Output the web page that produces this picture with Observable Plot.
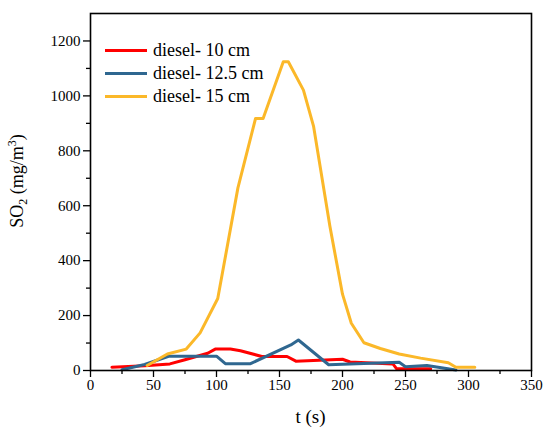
<!DOCTYPE html>
<html><head><meta charset="utf-8">
<script src="https://cdn.jsdelivr.net/npm/d3@7"></script>
<script src="https://cdn.jsdelivr.net/npm/@observablehq/plot@0.6"></script>
<style>
body{margin:0;background:#fff;}
#wrap{position:relative;width:550px;height:433px;font-family:"Liberation Serif","Times New Roman",serif;}
#legend{position:absolute;left:105px;top:39px;font-size:18px;color:#000;line-height:23px;}
#legend .row{display:flex;align-items:center;height:23px;}
#legend .sw{width:42px;height:3px;margin-right:6px;}
svg text{font-family:"Liberation Serif","Times New Roman",serif;}
</style></head><body><div id="wrap"><div id="legend"></div></div>
<script>
const seriesNames = ["diesel- 10 cm", "diesel- 12.5 cm", "diesel- 15 cm"];
const seriesColors = ["#ff0000", "#2f6790", "#fbb829"];

const redT = [17, 43, 63, 75, 93, 99, 111, 119, 136, 156, 163, 200, 206, 240, 243, 270];
const redV = [12, 17, 24, 39, 63, 78, 78, 72, 51, 51, 34, 41, 31, 24, 6, 6];

const blueT = [25, 43, 62, 100, 107, 127, 159, 165, 189, 245, 250, 267, 290];
const blueV = [3, 22, 52, 52, 25, 25, 93, 111, 21, 30, 14, 18, 2];

const yellowT = [45, 61, 76, 87, 101, 117, 131, 137, 153, 157, 169, 177, 190, 200, 207, 217, 230, 245, 262, 284, 290, 305];
const yellowV = [18, 60, 78, 137, 262, 665, 918, 918, 1124, 1124, 1021, 890, 525, 278, 172, 101, 80, 60, 45, 28, 12, 12];

const xTicks = [0, 50, 100, 150, 200, 250, 300, 350];
const xMinor = [25, 75, 125, 175, 225, 275, 325];
const yTicks = [0, 200, 400, 600, 800, 1000, 1200];
const yMinor = [100, 300, 500, 700, 900, 1100];

const seriesT = [redT, blueT, yellowT];
const seriesV = [redV, blueV, yellowV];
const data = [];
seriesNames.forEach((name, i) => {
  seriesT[i].forEach((t, j) => data.push({series: name, t, v: seriesV[i][j]}));
});

const fam = "'Liberation Serif','Times New Roman',serif";
const plot = Plot.plot({
  width: 550, height: 433,
  marginLeft: 90, marginRight: 19, marginTop: 13, marginBottom: 63,
  style: "font-family: 'Liberation Serif','Times New Roman',serif; font-size: 15px; color: #000; background: #fff; overflow: visible;",
  x: {domain: [0, 350]},
  y: {domain: [0, 1300]},
  color: {domain: seriesNames, range: seriesColors},
  marks: [
    Plot.line(data, {x: "t", y: "v", z: "series", stroke: "series", strokeWidth: 3, strokeLinejoin: "round"}),
    Plot.axisX({ticks: xMinor, tickSize: 4, tickFormat: () => "", label: null, strokeWidth: 1.3}),
    Plot.axisX({ticks: xTicks, tickSize: 7, tickPadding: 2, tickFormat: d => String(d), label: null, strokeWidth: 1.3, fill: "#000", fontSize: 15}),
    Plot.axisY({ticks: yMinor, tickSize: 4, tickFormat: () => "", label: null, strokeWidth: 1.3}),
    Plot.axisY({ticks: yTicks, tickSize: 7, tickPadding: 3, tickFormat: d => String(d), label: null, strokeWidth: 1.3, fill: "#000", fontSize: 15}),
    Plot.frame({stroke: "#000", strokeWidth: 1.6})
  ]
});

const wrap = document.getElementById("wrap");
wrap.insertBefore(plot, wrap.firstChild);

const svg = d3.select(plot);
svg.selectAll("g[aria-label$='tick label'], g[aria-label$='tick label'] text")
  .style("font-family", fam).style("font-size", "15px").attr("font-size", 15);

svg.append("text")
  .attr("x", 310.5).attr("y", 423)
  .attr("text-anchor", "middle")
  .style("font-family", fam).style("font-size", "19px").attr("fill", "#000")
  .text("t (s)");

const yl = svg.append("text")
  .attr("transform", "translate(23,181) rotate(-90)")
  .attr("text-anchor", "middle")
  .style("font-family", fam).style("font-size", "18px").attr("fill", "#000");
yl.append("tspan").text("SO");
yl.append("tspan").style("font-size", "12px").attr("dy", 4).text("2");
yl.append("tspan").attr("dy", -4).text(" (mg/m");
yl.append("tspan").style("font-size", "12px").attr("dy", -7).text("3");
yl.append("tspan").attr("dy", 7).text(")");

const legend = d3.select("#legend");
seriesNames.forEach((name, i) => {
  const row = legend.append("div").attr("class", "row");
  row.append("div").attr("class", "sw").style("background", seriesColors[i]);
  row.append("span").text(name);
});
</script></body></html>
